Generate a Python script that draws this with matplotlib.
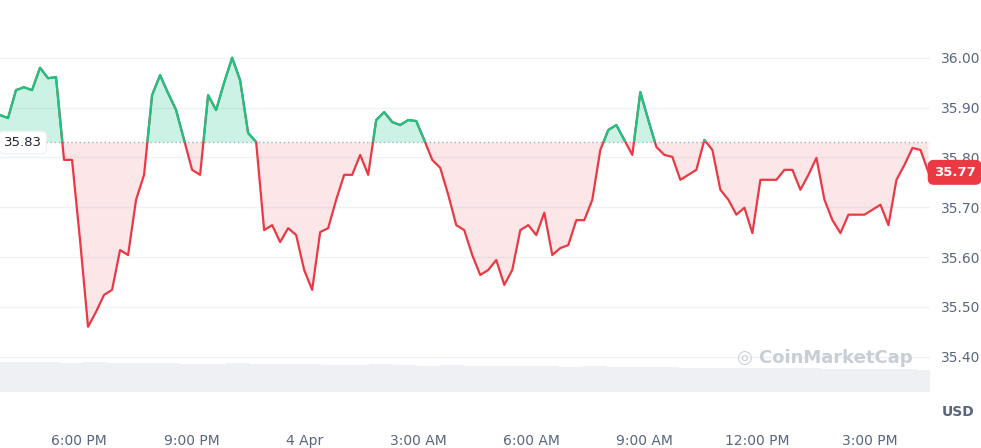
import numpy as np
import matplotlib.pyplot as plt

# price samples, evenly spaced from ~15:54 (Apr 3) to ~16:35 (Apr 4)
price = [35.885, 35.879, 35.935, 35.941, 35.935, 35.980, 35.959, 35.961, 35.795, 35.795,
         35.634, 35.46, 35.49, 35.524, 35.534, 35.614, 35.604, 35.715, 35.765, 35.925,
         35.965, 35.929, 35.895, 35.835, 35.775, 35.765, 35.925, 35.895, 35.95, 36.00,
         35.955, 35.849, 35.831, 35.654, 35.664, 35.630, 35.658, 35.644, 35.574, 35.534,
         35.650, 35.658, 35.715, 35.765, 35.765, 35.805, 35.765, 35.875, 35.891, 35.871,
         35.865, 35.875, 35.873, 35.835, 35.795, 35.779, 35.725, 35.664, 35.654, 35.604,
         35.564, 35.574, 35.594, 35.544, 35.574, 35.654, 35.664, 35.644, 35.689, 35.604,
         35.618, 35.624, 35.674, 35.674, 35.715, 35.815, 35.855, 35.865, 35.835, 35.805,
         35.931, 35.875, 35.821, 35.805, 35.801, 35.755, 35.765, 35.775, 35.835, 35.815,
         35.735, 35.715, 35.685, 35.699, 35.648, 35.755, 35.755, 35.755, 35.775, 35.775,
         35.735, 35.765, 35.799, 35.715, 35.674, 35.648, 35.685, 35.685, 35.685, 35.695,
         35.705, 35.664, 35.755, 35.785, 35.819, 35.815, 35.77]
t_start, t_end = 15.90, 40.55  # hours since Apr 3 00:00
open_price = 35.83
last_price = 35.77

volume = [10.5, 10.2, 10.4, 10.1, 10.3, 10.0, 9.9, 10.1, 9.8, 9.7, 9.9, 9.6, 9.5, 9.6, 9.4,
          9.3, 9.5, 9.2, 9.1, 9.2, 9.0, 8.9, 9.0, 8.8, 8.7, 8.9, 8.6, 8.5, 8.6, 8.4,
          8.3, 8.4, 8.2, 8.1, 8.2, 8.0, 7.9, 8.0, 7.8, 7.7]

tick_hours = [18, 21, 24, 27, 30, 33, 36, 39]
tick_labels = ['6:00 PM', '9:00 PM', '4 Apr', '3:00 AM', '6:00 AM', '9:00 AM', '12:00 PM', '3:00 PM']
y_ticks = [35.40, 35.50, 35.60, 35.70, 35.80, 35.90, 36.00]

green = '#16c784'
red = '#ea3943'
grey = '#58667e'
ymin, ymax = 35.329, 36.116

t = np.linspace(t_start, t_end, len(price))
p = np.array(price)

fig = plt.figure(figsize=(9.81, 4.48), dpi=100)
ax = fig.add_axes([0.0, 0.125, 0.948, 0.875])
ax.set_xlim(15.90, 40.59)
ax.set_ylim(ymin, ymax)

for y in y_ticks:
    ax.axhline(y, color='#eff2f5', lw=1, zorder=0)

# volume bars at the bottom
axv = ax.twinx()
vt = np.linspace(t_start, t_end, len(volume))
axv.bar(vt, volume, width=(vt[1] - vt[0]), color='#eef0f3', zorder=0)
axv.set_ylim(0, 135)
axv.axis('off')
ax.set_zorder(axv.get_zorder() + 1)
ax.patch.set_visible(False)

ax.fill_between(t, p, open_price, where=p >= open_price, interpolate=True, color=green, alpha=0.22, lw=0)
ax.fill_between(t, p, open_price, where=p <= open_price, interpolate=True, color=red, alpha=0.12, lw=0)
# line red below the open price, green above
ax.plot(t, p, color=red, lw=1.6, zorder=3)
clip_up = ax.fill_between([t_start, t_end], open_price, 36.2, alpha=0)
ln, = ax.plot(t, p, color=green, lw=1.6, zorder=4)
ln.set_clip_path(clip_up.get_paths()[0], ax.transData)
ax.axhline(open_price, color='#a6b0c3', lw=1, ls=(0, (1, 2)), zorder=2)

ax.set_xticks(tick_hours)
ax.set_xticklabels(tick_labels)
ax.yaxis.tick_right()
ax.set_yticks(y_ticks)
ax.set_yticklabels([f'{y:.2f}' for y in y_ticks])
ax.tick_params(length=0, labelsize=10, labelcolor=grey)
ax.tick_params(axis='x', pad=30)
ax.tick_params(axis='y', pad=8)
for s in ax.spines.values():
    s.set_visible(False)

ax.text(16.0, open_price, '35.83', fontsize=9.5, color='#222531', va='center', ha='left',
        bbox=dict(boxstyle='round,pad=0.35', fc='white', ec='#eff2f5'))
ax.text(1.004, (last_price - ymin) / (ymax - ymin), f'{last_price:.2f}', transform=ax.transAxes,
        fontsize=9.5, color='white', weight='bold', va='center', ha='left',
        bbox=dict(boxstyle='round,pad=0.4', fc=red, ec=red))
fig.text(0.993, 0.08, 'USD', fontsize=10, color=grey, weight='bold', ha='right', va='center')
fig.text(0.93, 0.2, '\u25CE CoinMarketCap', fontsize=13, color='#c8ced6',
         ha='right', va='center', weight='bold')

fig.savefig('out.png', dpi=100)
